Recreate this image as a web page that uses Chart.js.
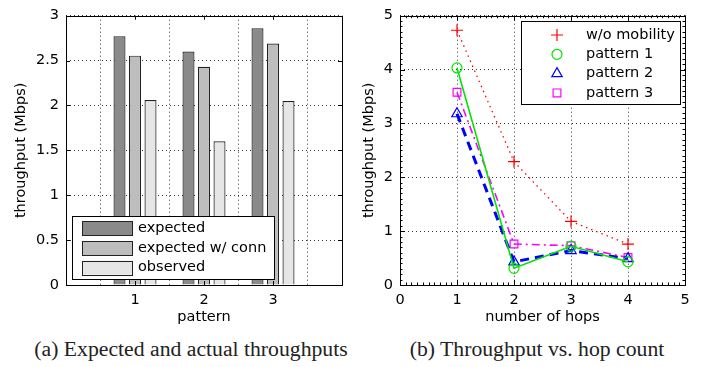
<!DOCTYPE html>
<html>
<head>
<meta charset="utf-8">
<script src="https://cdn.jsdelivr.net/npm/chart.js@4.4.1/dist/chart.umd.min.js"></script>
<style>
  body { margin: 0; background: #fff; }
  #wrap { position: relative; width: 708px; height: 367px; overflow: hidden; }
  canvas { position: absolute; top: 0; }
  .cap { position: absolute; top: 338px; font: 20px "Liberation Serif", serif; color: #222;
         white-space: nowrap; transform: translateX(-50%) scaleX(1.085); }
</style>
</head>
<body>
<div id="wrap">
  <canvas id="barChart" width="354" height="330" style="left:0"></canvas>
  <canvas id="hopChart" width="354" height="330" style="left:354px"></canvas>
  <div class="cap" style="left:191px">(a) Expected and actual throughputs</div>
  <div class="cap" style="left:537px">(b) Throughput vs. hop count</div>
</div>
<script>
// (a) throughput per mobility pattern
const patterns = [1, 2, 3];
const expected = [2.77, 2.60, 2.86];
const expectedConn = [2.555, 2.43, 2.69];
const observed = [2.06, 1.60, 2.05];
const barNames = ["expected", "expected w/ conn", "observed"];

// (b) throughput vs number of hops
const hops = [1, 2, 3, 4];
const noMobility = [4.73, 2.29, 1.18, 0.76];
const pattern1 = [4.03, 0.31, 0.72, 0.43];
const pattern2 = [3.18, 0.43, 0.64, 0.49];
const pattern3 = [3.58, 0.76, 0.73, 0.51];
const lineNames = ["w/o mobility", "pattern 1", "pattern 2", "pattern 3"];

const FONT = "DejaVu Sans";
Chart.defaults.font.family = FONT;
Chart.defaults.font.size = 14.5;
Chart.defaults.color = "#000";

const pts = (xs, ys) => xs.map((x, i) => ({ x: x, y: ys[i] }));
const plain = v => String(v);

// matlab style box with inward ticks
const frame = {
  id: "frame",
  afterDatasetsDraw(chart, args, o) {
    const { ctx, chartArea: a, scales } = chart;
    const x = scales.x, y = scales.y;
    ctx.save();
    ctx.setLineDash([]);
    ctx.strokeStyle = "#000";
    ctx.lineWidth = 1;
    ctx.beginPath();
    const vTick = (v, len) => {
      const p = Math.round(x.getPixelForValue(v)) + 0.5;
      ctx.moveTo(p, a.bottom); ctx.lineTo(p, a.bottom - len);
      ctx.moveTo(p, a.top); ctx.lineTo(p, a.top + len);
    };
    const hTick = (v, len) => {
      const p = Math.round(y.getPixelForValue(v)) + 0.5;
      ctx.moveTo(a.left, p); ctx.lineTo(a.left + len, p);
      ctx.moveTo(a.right, p); ctx.lineTo(a.right - len, p);
    };
    x.ticks.forEach(t => vTick(t.value, o.major));
    y.ticks.forEach(t => hTick(t.value, o.major));
    if (o.minor) {
      for (let v = x.min; v <= x.max + 1e-9; v += o.minor) vTick(v, o.major / 2);
      for (let v = y.min; v <= y.max + 1e-9; v += o.minor) hTick(v, o.major / 2);
    }
    ctx.stroke();
    ctx.strokeRect(Math.round(a.left) + 0.5, Math.round(a.top) + 0.5,
      Math.round(a.width), Math.round(a.height));
    ctx.restore();
  }
};

// boxed legend drawn inside the plot area
const boxLegend = {
  id: "boxLegend",
  afterDraw(chart, args, o) {
    if (!o.corner) return;
    const { ctx, chartArea: a } = chart;
    const sets = chart.data.datasets;
    ctx.save();
    ctx.font = "14.5px '" + FONT + "'";
    const textW = Math.max(...sets.map(d => ctx.measureText(d.label).width));
    const w = Math.round(o.textX + textW + o.padR);
    const h = Math.round(o.padT + o.rowH * (sets.length - 1) + o.padB);
    const x0 = Math.round(o.corner === "bl" ? a.left + o.margin : a.right - o.margin - w);
    const y0 = Math.round(o.corner === "bl" ? a.bottom - o.margin - h : a.top + o.margin);
    ctx.fillStyle = "#fff";
    ctx.fillRect(x0, y0, w, h);
    ctx.strokeStyle = "#000";
    ctx.lineWidth = 1;
    ctx.strokeRect(x0 + 0.5, y0 + 0.5, w, h);
    sets.forEach((d, i) => {
      const cy = y0 + o.padT + i * o.rowH;
      if (o.kind === "swatch") {
        ctx.fillStyle = d.backgroundColor;
        ctx.fillRect(x0 + o.keyX, cy - 7, o.keyW, 14);
        ctx.strokeStyle = d.borderColor;
        ctx.strokeRect(x0 + o.keyX + 0.5, Math.round(cy - 7) + 0.5, o.keyW, 14);
      } else {
        ctx.strokeStyle = d.pointBorderColor;
        ctx.fillStyle = "rgba(0,0,0,0)";
        ctx.lineWidth = d.pointBorderWidth;
        Chart.helpers.drawPoint(ctx, { pointStyle: d.pointStyle, radius: d.pointRadius, rotation: 0,
          borderWidth: d.pointBorderWidth }, x0 + o.keyX, cy);
      }
      ctx.fillStyle = "#000";
      ctx.textBaseline = "middle";
      ctx.fillText(d.label, x0 + o.textX, cy);
    });
    ctx.restore();
  }
};

function gridOpts() {
  return { color: "#333", lineWidth: 1, drawTicks: false };
}

new Chart(document.getElementById("barChart"), {
  type: "bar",
  data: {
    datasets: [
      { label: barNames[0], data: pts(patterns, expected), backgroundColor: "#8a8a8a" },
      { label: barNames[1], data: pts(patterns, expectedConn), backgroundColor: "#bdbdbd" },
      { label: barNames[2], data: pts(patterns, observed), backgroundColor: "#e6e6e6" }
    ].map(d => Object.assign(d, { borderColor: "#222", borderWidth: 1.2,
      categoryPercentage: 0.674, barPercentage: 0.774 }))
  },
  options: {
    responsive: false,
    animation: false,
    layout: { padding: { top: 10, right: 12, left: 0, bottom: 0 } },
    plugins: {
      legend: { display: false },
      tooltip: { enabled: false },
      frame: { major: 4 },
      boxLegend: { corner: "bl", kind: "swatch", margin: 6, keyX: 10, keyW: 50,
        textX: 66, padR: 8, padT: 12.3, rowH: 19.7, padB: 11.3 }
    },
    scales: {
      x: {
        type: "linear", min: 0, max: 4, offset: false,
        ticks: { stepSize: 1, padding: 7, callback: v => patterns.includes(v) ? plain(v) : "" },
        grid: gridOpts(),
        border: { display: false, dash: [1, 3] },
        title: { display: true, text: "pattern", padding: 3.6 },
        afterFit: s => { s.height = 45; }
      },
      y: {
        min: 0, max: 3,
        ticks: { stepSize: 0.5, padding: 7, callback: plain },
        grid: gridOpts(),
        border: { display: false, dash: [1, 3] },
        title: { display: true, text: "throughput (Mbps)", padding: 12.6 },
        afterFit: s => { s.width = 66; }
      }
    }
  },
  plugins: [frame, boxLegend]
});

new Chart(document.getElementById("hopChart"), {
  type: "line",
  data: {
    datasets: [
      { label: lineNames[0], data: pts(hops, noMobility), borderColor: "#ff0000", borderWidth: 1.3,
        borderDash: [1.5, 4], pointStyle: "cross", pointRadius: 6, pointBorderColor: "#ff0000" },
      { label: lineNames[1], data: pts(hops, pattern1), borderColor: "#00e600", borderWidth: 1.6,
        pointStyle: "circle", pointRadius: 5, pointBorderColor: "#00e600" },
      { label: lineNames[2], data: pts(hops, pattern2), borderColor: "#0000ff", borderWidth: 3,
        borderDash: [9, 6], pointStyle: "triangle", pointRadius: 6, pointBorderColor: "#0000ff" },
      { label: lineNames[3], data: pts(hops, pattern3), borderColor: "#ff00ff", borderWidth: 1.6,
        borderDash: [8, 4, 2, 4], pointStyle: "rect", pointRadius: 5.5, pointBorderColor: "#ff00ff" }
    ].map(d => Object.assign(d, { tension: 0, fill: false, pointBorderWidth: 1.2,
      pointBackgroundColor: "rgba(0,0,0,0)" }))
  },
  options: {
    responsive: false,
    animation: false,
    layout: { padding: { top: 10, right: 23, left: 0, bottom: 0 } },
    plugins: {
      legend: { display: false },
      tooltip: { enabled: false },
      frame: { major: 5, minor: 0.1 },
      boxLegend: { corner: "tr", kind: "marker", margin: 5.5, keyX: 36,
        textX: 65, padR: 5, padT: 14, rowH: 19.3, padB: 11 }
    },
    scales: {
      x: {
        type: "linear", min: 0, max: 5,
        ticks: { stepSize: 1, padding: 7, callback: plain },
        grid: gridOpts(),
        border: { display: false, dash: [1, 3] },
        title: { display: true, text: "number of hops", padding: 3.6 },
        afterFit: s => { s.height = 45; }
      },
      y: {
        min: 0, max: 5,
        ticks: { stepSize: 1, padding: 7, callback: plain },
        grid: gridOpts(),
        border: { display: false, dash: [1, 3] },
        title: { display: true, text: "throughput (Mbps)", padding: 6.6 },
        afterFit: s => { s.width = 46; }
      }
    }
  },
  plugins: [frame, boxLegend]
});
</script>
</body>
</html>
